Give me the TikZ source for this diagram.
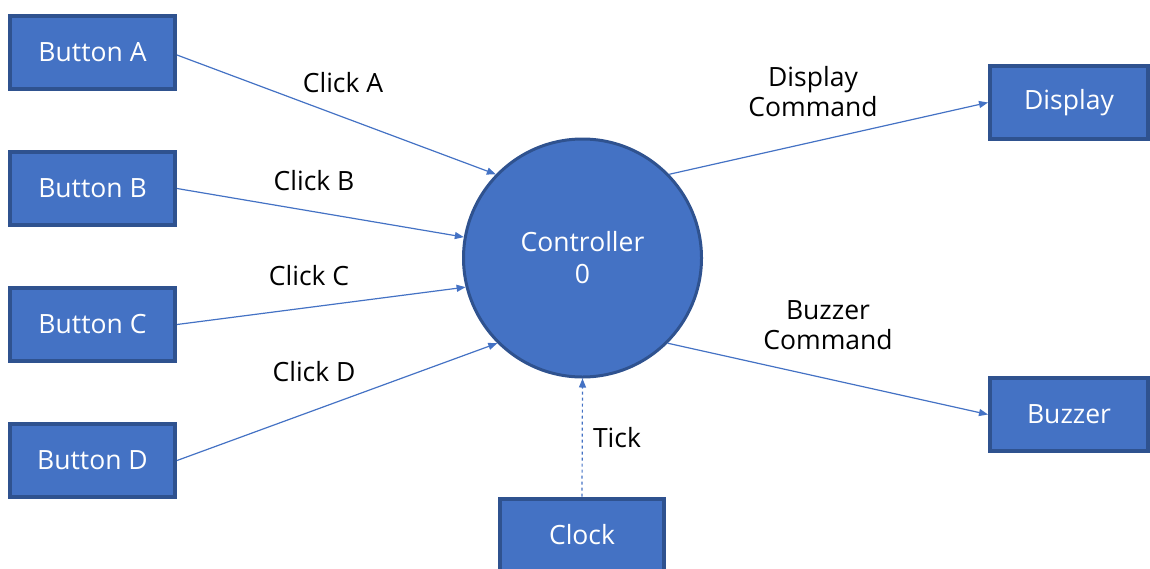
\documentclass[tikz,border=0pt]{standalone}
\usepackage{fontspec}
\setmainfont{Open Sans}
\usetikzlibrary{arrows.meta}
\definecolor{boxfill}{HTML}{4472C4}
\definecolor{boxline}{HTML}{2F528F}
\tikzset{
  blk/.style={draw=boxline, fill=boxfill, line width=4pt, text=white,
    minimum width=165pt, minimum height=73pt, inner sep=0pt,
    font=\fontsize{26.5}{30}\selectfont},
  flow/.style={draw=boxfill, line width=1.2pt, -{Triangle[length=9pt,width=7pt]}},
  lbl/.style={font=\fontsize{26.5}{30}\selectfont, align=center, text=black}
}
\begin{document}
\begin{tikzpicture}[x=1pt,y=-1pt]
\useasboundingbox (0,0) rectangle (1150,568);
\node[blk] (a) at (92.5,52) {Button A};
\node[blk] (b) at (92.5,188.5) {Button B};
\node[blk] (c) at (92.5,324.5) {Button C};
\node[blk] (d) at (92.5,460.5) {Button D};
\node[blk, minimum width=158pt] (disp) at (1069,102.5) {Display};
\node[blk, minimum width=158pt] (buz) at (1069,414.5) {Buzzer};
\node[blk, minimum width=164pt] (clk) at (582,535) {Clock};
\node[circle, draw=boxline, fill=boxfill, line width=3pt, minimum size=238pt, inner sep=0pt, text=white, align=center, font=\fontsize{26.5}{32}\selectfont] (ctrl) at (582.5,258) {Controller\\0};
\draw[flow] ([yshift=-3pt]a.east) -- (ctrl.136);
\draw[flow] (b.east) -- (ctrl.170);
\draw[flow] (c.east) -- (ctrl.194);
\draw[flow] (d.east) -- (ctrl.225);
\draw[flow] (ctrl.44) -- (disp.west);
\draw[flow] (ctrl.315) -- (buz.west);
\draw[flow, dashed] (clk.north) -- (ctrl.south);
\node[lbl] (la) at (343,83) {Click A};
\node[lbl] (lb) at (314,181) {Click B};
\node[lbl] (lc) at (309,276) {Click C};
\node[lbl] (ld) at (314,372) {Click D};
\node[lbl] (ldisp) at (813,92) {Display\\Command};
\node[lbl] (lbuz) at (828,325) {Buzzer\\Command};
\node[lbl] (ltick) at (617,438) {Tick};
\end{tikzpicture}
\end{document}
